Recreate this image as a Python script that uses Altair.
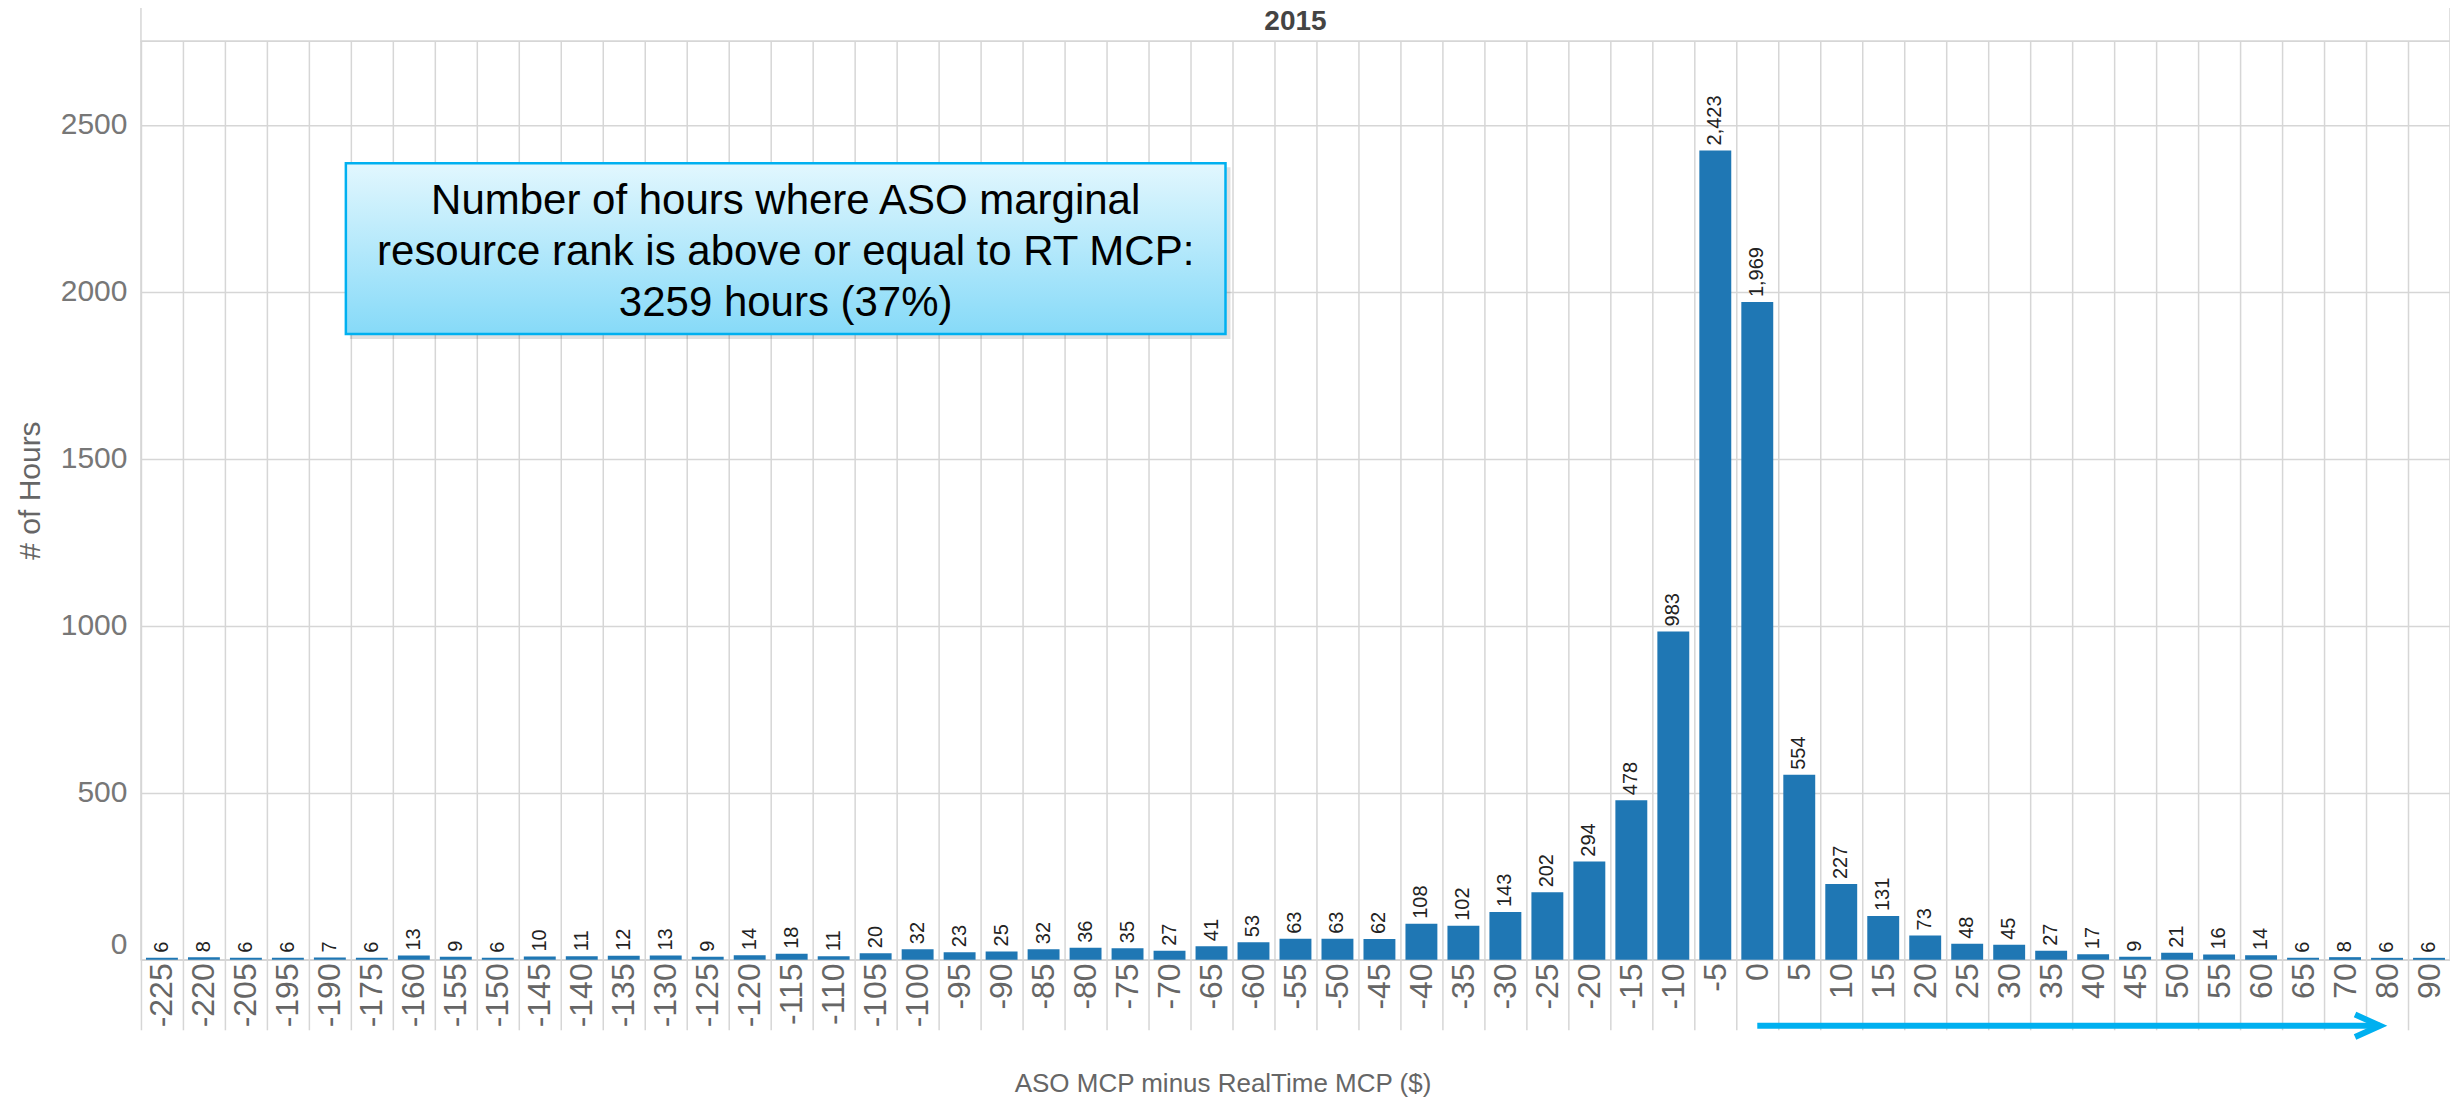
import altair as alt
import pandas as pd

# ---------------- data ----------------
categories = ["-225", "-220", "-205", "-195", "-190", "-175", "-160", "-155", "-150",
              "-145", "-140", "-135", "-130", "-125", "-120", "-115", "-110", "-105",
              "-100", "-95", "-90", "-85", "-80", "-75", "-70", "-65", "-60", "-55",
              "-50", "-45", "-40", "-35", "-30", "-25", "-20", "-15", "-10", "-5",
              "0", "5", "10", "15", "20", "25", "30", "35", "40", "45", "50", "55",
              "60", "65", "70", "80", "90"]
hours = [6, 8, 6, 6, 7, 6, 13, 9, 6,
         10, 11, 12, 13, 9, 14, 18, 11, 20,
         32, 23, 25, 32, 36, 35, 27, 41, 53, 63,
         63, 62, 108, 102, 143, 202, 294, 478, 983, 2423,
         1969, 554, 227, 131, 73, 48, 45, 27, 17, 9, 21, 16,
         14, 6, 8, 6, 6]
y_ticks = [0, 500, 1000, 1500, 2000, 2500]
header_text = ["2015"]
note_lines = ["Number of hours where ASO marginal",
              "resource rank is above or equal to RT MCP:",
              "3259 hours (37%)"]
arrow_from = ["0"]
arrow_to = ["80"]

# ---------------- layout ----------------
STEP = 42
W = STEP * len(categories)
H = 919
GRID = "#d6d6d6"
BLUE = "#00B0F0"

df = pd.DataFrame({"cat": categories, "hours": hours})
xscale = alt.Scale(domain=categories, paddingInner=0.24, paddingOuter=0.12)
yscale = alt.Scale(domain=[0, 2750], nice=False)

x_enc = alt.X(
    "cat:N", sort=categories, scale=xscale,
    axis=alt.Axis(
        title="ASO MCP minus RealTime MCP ($)", titleFontSize=26, titleFontWeight="normal",
        titleColor="#666", titleX=1082, titleY=124, titleAlign="center", titleBaseline="middle",
        labelAngle=270, labelFontSize=32, labelColor="#666", labelPadding=-67,
        ticks=True, tickSize=70, tickColor=GRID, tickWidth=1.5,
        tickOffset=-STEP / 2, labelOffset=STEP / 2,
        grid=True, gridColor=GRID, gridWidth=1.5, domain=False,
    ),
)
y_enc = alt.Y(
    "hours:Q", scale=yscale,
    axis=alt.Axis(
        values=y_ticks, format="d", title="# of Hours", titleFontSize=30,
        titleFontWeight="normal", titleColor="#666", titleX=-110, titleY=449,
        titleAngle=270, titleAlign="center", titleBaseline="middle",
        labelFontSize=30, labelColor="#777", labelPadding=14, labelFlush=True,
        ticks=False, domain=False, grid=True, gridColor=GRID, gridWidth=1.5,
    ),
)

base = alt.Chart(df)
bars = base.mark_bar(color="#1f77b4").encode(x=x_enc, y=y_enc)
bar_labels = base.mark_text(angle=270, align="left", baseline="middle", dx=5,
                            fontSize=20, color="#222").encode(
    x=alt.X("cat:N", sort=categories, scale=xscale),
    y=alt.Y("hours:Q", scale=yscale),
    text=alt.Text("hours:Q", format=","),
)

one = pd.DataFrame({"k": [0]})

header_box = alt.Chart(one).mark_rect(fillOpacity=0, stroke=GRID, strokeWidth=1.5).encode(
    x=alt.value(0), x2=alt.value(W), y=alt.value(-38), y2=alt.value(0))
header = alt.Chart(pd.DataFrame({"t": header_text})).mark_text(
    fontSize=28, fontWeight="bold", color="#444", baseline="middle").encode(
    x=alt.value(W / 2), y=alt.value(-19), text="t:N")

shadow = alt.Chart(one).mark_rect(fill="#000", opacity=0.12).encode(
    x=alt.value(209), x2=alt.value(1090), y=alt.value(126), y2=alt.value(298))
note_box = alt.Chart(one).mark_rect(
    fill=alt.Gradient(gradient="linear", x1=0, y1=0, x2=0, y2=1,
                      stops=[alt.GradientStop(color="#E2F7FE", offset=0),
                             alt.GradientStop(color="#86DAF8", offset=1)]),
    stroke=BLUE, strokeWidth=2.5).encode(
    x=alt.value(205), x2=alt.value(1085), y=alt.value(122), y2=alt.value(293))
note = alt.Chart(pd.DataFrame({"t": ["\n".join(note_lines)]})).mark_text(
    fontSize=42, lineHeight=51, lineBreak="\n", color="#000", align="center",
    baseline="middle").encode(x=alt.value(645), y=alt.value(160), text="t:N")

arrow_df = pd.DataFrame({"start": arrow_from, "end": arrow_to})
arrow_line = alt.Chart(arrow_df).mark_rule(color=BLUE, strokeWidth=6, x2Offset=-7).encode(
    x=alt.X("start:N", scale=xscale), x2="end:N", y=alt.value(985))
arrow_head = alt.Chart(arrow_df).mark_point(
    shape="M-1,-0.45L0,0L-1,0.45", size=2500, filled=False, strokeWidth=6,
    color=BLUE, opacity=1, xOffset=-7).encode(
    x=alt.X("end:N", scale=xscale), y=alt.value(985))

chart = alt.layer(
    bars, bar_labels, header_box, header, shadow, note_box, note, arrow_line, arrow_head
).properties(
    width=W, height=H,
    padding={"left": 133, "top": 33, "right": 0, "bottom": 138},
    autosize=alt.AutoSizeParams(type="none"),
).configure(font="Liberation Sans").configure_view(stroke=GRID, strokeWidth=1.5)

chart.save("out.html", embed_options={"renderer": "svg", "actions": False})
